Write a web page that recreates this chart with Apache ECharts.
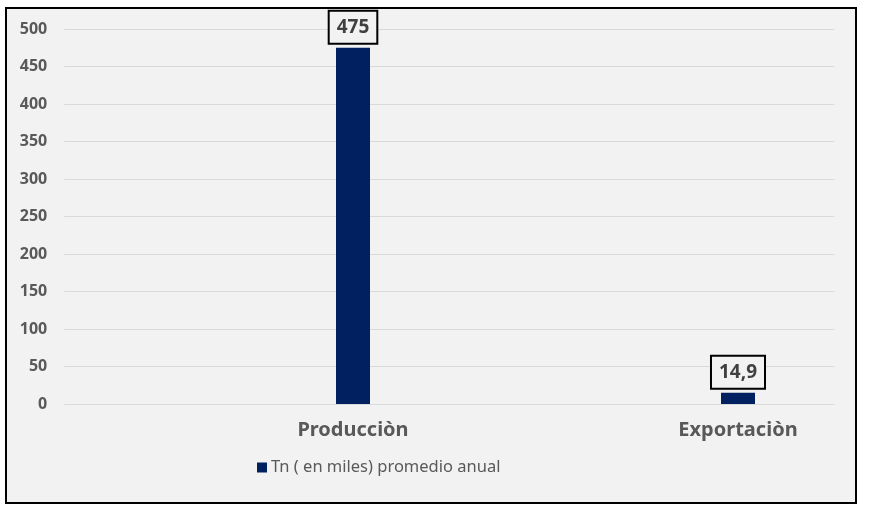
<!DOCTYPE html>
<html>
<head>
<meta charset="utf-8">
<script src="https://cdn.jsdelivr.net/npm/echarts@6/dist/echarts.min.js"></script>
<style>html,body{margin:0;padding:0;background:#fff}#c{width:871px;height:508px}</style>
</head>
<body>
<div id="c"></div>
<script>
var categories = ['', 'Producciòn', '', 'Exportaciòn'];
var values = [null, 475, null, 14.9];
var seriesName = 'Tn ( en miles) promedio anual';
var yMin = 0, yMax = 500, yInterval = 50;

var chart = echarts.init(document.getElementById('c'), null, {renderer: 'canvas'});
var font = '"Noto Sans", "Liberation Sans", Arial, sans-serif';
chart.setOption({
  backgroundColor: '#ffffff',
  animation: false,
  graphic: [{
    type: 'rect', z: -10, silent: true,
    shape: {x: 6, y: 8, width: 850, height: 495},
    style: {fill: '#f2f2f2', stroke: '#000000', lineWidth: 2}
  }],
  legend: {
    data: [seriesName], left: 252, top: 454, icon: 'rect', itemWidth: 10, itemHeight: 10, itemGap: 5,
    textStyle: {fontFamily: font, fontSize: 16.5, color: '#595959', padding: [0, 0, 0, -1]}
  },
  grid: {left: 64.25, right: 36.75, top: 29, bottom: 104},
  xAxis: {
    type: 'category', data: categories,
    axisLine: {show: false}, axisTick: {show: false},
    axisLabel: {fontFamily: font, fontSize: 20, fontWeight: 'bold', color: '#595959', margin: 16, interval: 0}
  },
  yAxis: {
    type: 'value', min: yMin, max: yMax, interval: yInterval,
    axisLine: {show: false}, axisTick: {show: false},
    axisLabel: {fontFamily: font, fontSize: 16, fontWeight: 'bold', color: '#595959', margin: 17},
    splitLine: {lineStyle: {color: '#d9d9d9', width: 1}}
  },
  series: [{
    name: seriesName, type: 'bar',
    data: values, barWidth: 34,
    itemStyle: {color: '#002060'},
    label: {
      show: true, position: 'top', distance: 5,
      formatter: function (p) { return String(p.value).replace('.', ','); },
      fontFamily: font, fontSize: 19, fontWeight: 'bold', color: '#404040',
      backgroundColor: '#f2f2f2', borderColor: '#000000', borderWidth: 2,
      padding: [6, 7, 6, 7]
    }
  }]
});
</script>
</body>
</html>
